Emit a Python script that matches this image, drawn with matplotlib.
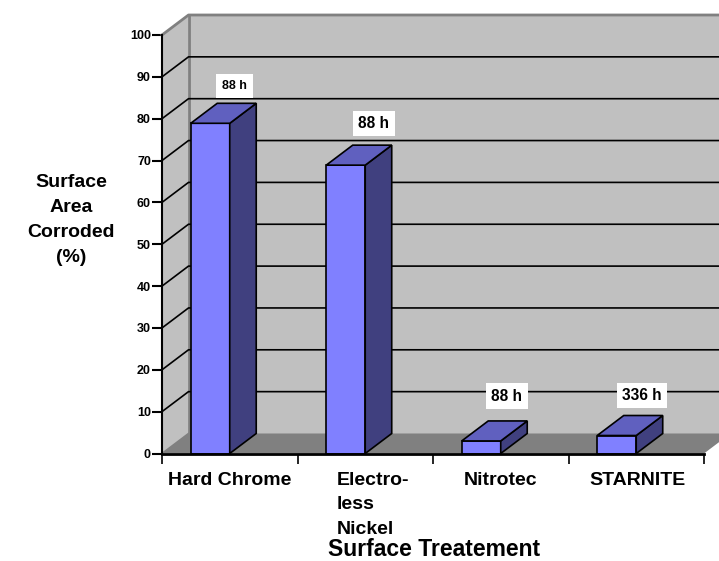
import matplotlib
matplotlib.use("Agg")
import matplotlib.pyplot as plt
from matplotlib.patches import Polygon

plt.rcParams["font.family"] = ["Liberation Sans", "DejaVu Sans"]
plt.rcParams["font.weight"] = "bold"

categories = ["Hard Chrome", "Electro-\nless\nNickel", "Nitrotec", "STARNITE"]
corroded = [78.9, 68.9, 3.0, 4.3]
hours = ["88 h", "88 h", "88 h", "336 h"]
yticks = [0, 10, 20, 30, 40, 50, 60, 70, 80, 90, 100]

W, H = 719, 561
# front plane of the 3d box, in pixels
x0, x1 = 162, 704
y0, y1 = 453.5, 35
px_x = (x1 - x0) / 4
px_y = (y0 - y1) / 100
dx = 26.5 / px_x
dy = 20 / px_y
bar_w = 39 / px_x
bar_gap = 0.212

# label placing per bar: pixel offset from top of bar, font size
label_off = [(11, 17.5), (15, 21.5), (12.5, 24.7), (12, 20)]
label_size = [9, 11.2, 11.2, 11.2]
label_pad = [4.2, 3.8, 3.8, 3.8]

fig = plt.figure(figsize=(W / 100, H / 100), dpi=100)
ax = fig.add_axes([x0 / W, 1 - y0 / H, (x1 - x0) / W, (y0 - y1) / H])
ax.set_xlim(0, 4)
ax.set_ylim(0, 100)
ax.patch.set_visible(False)


def poly(pts, fc, ec="none", lw=1.0, z=1):
    ax.add_patch(Polygon(pts, closed=True, fc=fc, ec=ec, lw=lw, zorder=z, clip_on=False))


grey = "#c0c0c0"
wall = "#808080"
xr = 4.2  # back wall runs off the figure

# walls and floor
poly([(dx, dy), (xr, dy), (xr, 100 + dy), (dx, 100 + dy)], grey)
poly([(0, 0), (dx, dy), (dx, 100 + dy), (0, 100)], grey)
poly([(0, 0), (4, 0), (4 + dx, dy), (dx, dy)], wall)
ax.plot([0, dx, xr], [100, 100 + dy, 100 + dy], color=wall, lw=2, clip_on=False, zorder=2)
ax.plot([dx, dx], [dy, 100 + dy], color=wall, lw=2, clip_on=False, zorder=2)
ax.plot([0, dx], [0, dy], color=wall, lw=1.2, clip_on=False, zorder=2)

# gridlines, side wall then back wall
for v in yticks[1:-1]:
    ax.plot([0, dx, xr], [v, v + dy, v + dy], color="black", lw=1.2, clip_on=False, zorder=2)

# bars
for i, v in enumerate(corroded):
    left = i + bar_gap
    right = left + bar_w
    poly([(left, 0), (right, 0), (right, v), (left, v)], "#8080ff", "black", 1.2, 3)
    poly([(right, 0), (right + dx, dy), (right + dx, v + dy), (right, v)], "#40407f", "black", 1.2, 3)
    poly([(left, v), (right, v), (right + dx, v + dy), (left + dx, v + dy)], "#6060bf", "black", 1.2, 3)
    ox, oy = label_off[i]
    ax.annotate(hours[i], xy=((left + right + dx) / 2, v + dy), xytext=(ox * 0.72, oy * 0.72),
                textcoords="offset points", ha="center", va="center", fontsize=label_size[i],
                zorder=4, annotation_clip=False, bbox=dict(fc="white", ec="none", pad=label_pad[i]))

# axes
for s in ["top", "right"]:
    ax.spines[s].set_visible(False)
ax.spines["left"].set_linewidth(1.5)
ax.spines["bottom"].set_linewidth(2)
ax.spines["left"].set_zorder(5)
ax.spines["bottom"].set_zorder(5)
ax.set_yticks(yticks)
ax.tick_params(axis="y", length=7, width=1.5, labelsize=9, pad=1)
ax.set_xticks([0, 1, 2, 3, 4])
ax.set_xticklabels([])
ax.tick_params(axis="x", length=7, width=1.2, direction="out")

# category labels, Electro-less Nickel is left aligned in the source
label_x = [0.5, 1.286, 2.5, 3.51]
for i, c in enumerate(categories):
    ax.annotate(c, xy=(label_x[i], 0), xytext=(0, -13), textcoords="offset points",
                ha="center" if i != 1 else "left", va="top", fontsize=14, linespacing=1.58,
                annotation_clip=False)

fig.text(434 / W, 1 - 549.5 / H, "Surface Treatement", ha="center", va="center", fontsize=16.5)
fig.text(71 / W, 1 - 220 / H, "Surface\nArea\nCorroded\n(%)", ha="center", va="center",
         fontsize=14, linespacing=1.6)

fig.savefig("out.png", dpi=100)
